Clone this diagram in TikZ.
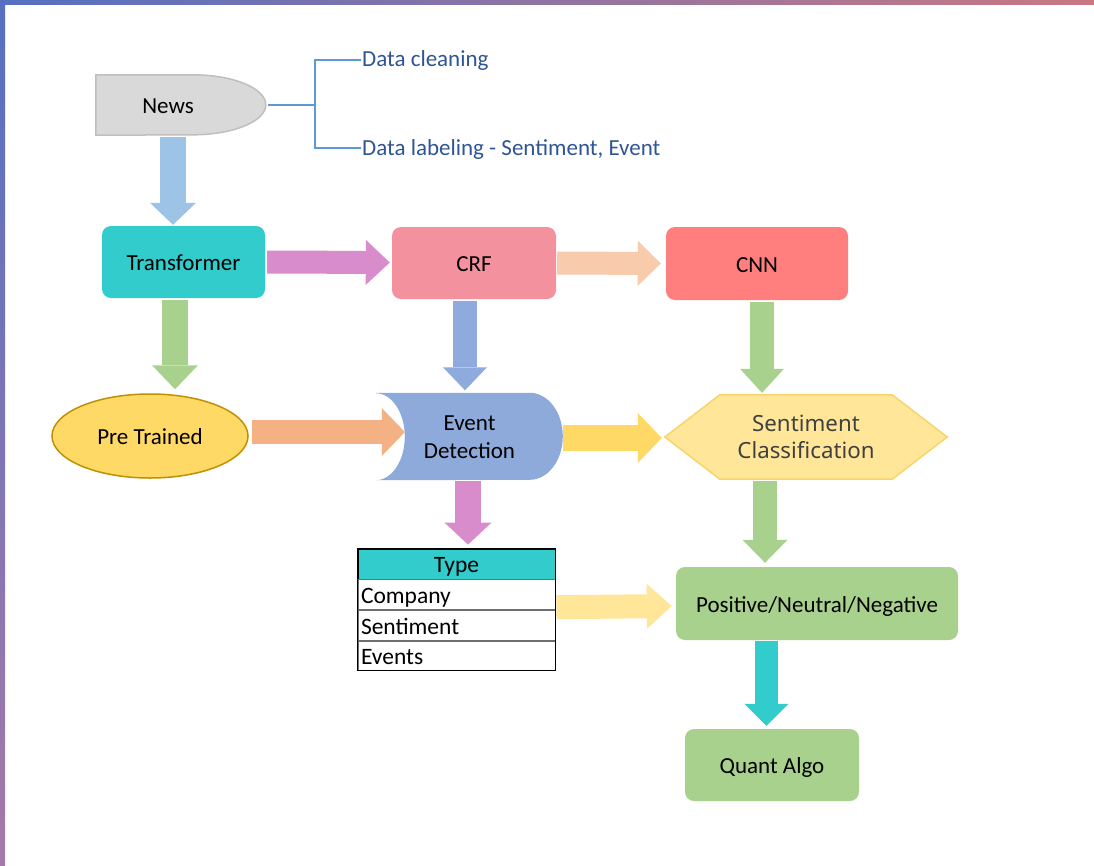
\documentclass[tikz,border=0pt]{standalone}
\usepackage{fontspec}
\setmainfont{Carlito}
\newfontfamily\robo{Noto Sans}
\usetikzlibrary{arrows.meta,shapes.geometric}
\pgfdeclarelayer{bg}
\pgfsetlayers{bg,main}
\definecolor{newsF}{HTML}{D9D9D9}
\definecolor{newsD}{HTML}{BFBFBF}
\definecolor{turq}{HTML}{33CCCC}
\definecolor{crfF}{HTML}{F4919F}
\definecolor{cnnF}{HTML}{FF7F7F}
\definecolor{preF}{HTML}{FFD966}
\definecolor{preD}{HTML}{BF9000}
\definecolor{evF}{HTML}{8EAADB}
\definecolor{senF}{HTML}{FFE699}
\definecolor{senD}{HTML}{F9D46A}
\definecolor{grn}{HTML}{A9D18E}
\definecolor{brkC}{HTML}{5B9BD5}
\definecolor{dtxt}{HTML}{2F5597}
\definecolor{aBlue}{HTML}{9DC3E6}
\definecolor{aPink}{HTML}{D98CCB}
\definecolor{aPeach}{HTML}{F8CBAD}
\definecolor{aEv}{HTML}{8FAADC}
\definecolor{aOr}{HTML}{F4B183}
\definecolor{aYel}{HTML}{FFD966}
\definecolor{aLy}{HTML}{FFE699}
\definecolor{frA}{HTML}{5570C2}
\definecolor{frB}{HTML}{C97882}
\definecolor{frC}{HTML}{A57AA8}
\definecolor{rowline}{HTML}{6E6E6E}
\definecolor{senT}{HTML}{404040}
\tikzset{
  txt/.style={font=\fontsize{23}{27}\selectfont, text=black, inner sep=0pt},
  one/.style={text height=17pt, text depth=0pt},
  box/.style={txt, one, rounded corners=9pt},
  dtx/.style={font=\fontsize{23}{27}\selectfont, one, text=dtxt, inner xsep=1pt, inner ysep=0pt},
  bline/.style={draw=brkC, line width=1.5pt},
  cell/.style={txt, one, font=\fontsize{23.5}{27}\selectfont, draw=rowline, line width=0.8pt, minimum height=30pt, text width=191pt, inner xsep=3pt, inner ysep=0pt, align=left},
  barrow/.style n args={4}{draw=#1, line width=#2, -{Triangle[width=#3,length=#4,line width=0pt]}}
}
\begin{document}
\begin{tikzpicture}[x=1pt,y=-1pt]
\useasboundingbox (0,0) rectangle (1094,865);
\begin{pgfonlayer}{bg}
\fill[white] (0,0) rectangle (1094,865);
\end{pgfonlayer}
% frame
\shade[left color=frA, right color=frB] (0,0) rectangle (1094,4);
\shade[top color=frA, bottom color=frC] (0,0) rectangle (5,865);

% nodes
\node[txt, one, minimum width=144pt, minimum height=60pt] (news) at (168,105) {News};
\coordinate (newstip) at ([xshift=170pt]news.west);
\node[dtx, anchor=west] (dc) at (361,58) {Data cleaning};
\node[dtx, anchor=west] (dl) at (361,147) {Data labeling - Sentiment, Event};
\coordinate (brj) at (315,105);

\node[box, fill=turq, minimum width=163pt, minimum height=72pt] (trans) at (183.5,262) {Transformer};
\node[box, fill=crfF, minimum width=164pt, minimum height=72pt] (crf) at (474,263) {CRF};
\node[box, fill=cnnF, minimum width=182pt, minimum height=73pt] (cnn) at (757,263.5) {CNN};
\node[txt, one, ellipse, fill=preF, draw=preD, line width=1.5pt, minimum width=196pt, minimum height=84pt] (pre) at (150,436) {Pre Trained};
\node[txt, align=center, minimum width=187pt, minimum height=87pt, font=\fontsize{23}{28}\selectfont] (event) at (469.5,437) {Event\\Detection};
\node[inner sep=0pt, align=center, minimum width=282pt, minimum height=84pt, text=senT, font=\robo\fontsize{22.3}{27}\selectfont] (senti) at (806,437) {Sentiment\\Classification};
\node[box, fill=grn, minimum width=282pt, minimum height=73pt] (pos) at (817,603.5) {Positive/Neutral/Negative};
\node[box, fill=grn, minimum width=174pt, minimum height=72pt] (quant) at (772,765) {Quant Algo};

% table
\node[txt, one, font=\fontsize{23.5}{27}\selectfont, draw=black, line width=0.8pt, fill=turq, minimum width=197pt, minimum height=30pt] (typeh) at (456.5,564) {Type};
\node[cell, anchor=north] (comp) at (typeh.south) {Company};
\node[cell, anchor=north] (sent) at (comp.south) {Sentiment};
\node[cell, anchor=north, minimum height=29pt] (evts) at (sent.south) {Events};
\draw[black, line width=1pt] (typeh.north west) rectangle (evts.south east);

% custom shapes
\begin{pgfonlayer}{bg}
\filldraw[fill=newsF, draw=newsD, line width=1.5pt] (news.north west) -- ([xshift=97pt]news.north west) arc[start angle=90, end angle=-90, x radius=73pt, y radius=30pt] -- (news.south west) -- cycle;
\fill[evF] ([yshift=0.5pt]event.north west) -- ([xshift=154pt,yshift=0.5pt]event.north west) arc[start angle=90, end angle=-90, x radius=33pt, y radius=43.5pt] -- ([yshift=0.5pt]event.south west) arc[start angle=-90, end angle=90, x radius=29pt, y radius=43.5pt] -- cycle;
\filldraw[fill=senF, draw=senD, line width=1.5pt] (senti.west) -- ([xshift=55pt]senti.north west) -- ([xshift=-55pt]senti.north east) -- (senti.east) -- ([xshift=-55pt]senti.south east) -- ([xshift=55pt]senti.south west) -- cycle;
\end{pgfonlayer}

% bracket
\draw[bline] ([xshift=2pt]newstip) -- (brj);
\draw[bline] ([yshift=-2pt]dc.west) -| (brj) |- ([yshift=-1pt]dl.west);

% block arrows
\draw[barrow={aBlue}{26pt}{46pt}{22pt}] ([xshift=5pt,yshift=-2pt]news.south) -- ([xshift=-10.5pt,yshift=1pt]trans.north);
\draw[barrow={aPink}{23pt}{45pt}{24pt}] ([xshift=2pt]trans.east) -- ([xshift=-2pt,yshift=0.5pt]crf.west);
\draw[barrow={aPeach}{23pt}{45pt}{23pt}] ([xshift=1pt]crf.east) -- ([xshift=-5pt]cnn.west);
\draw[barrow={grn}{26pt}{46pt}{24pt}] ([xshift=-8.5pt,yshift=-2pt]trans.south) -- ([xshift=25pt,yshift=4pt]pre.north);
\draw[barrow={aEv}{24pt}{44pt}{23pt}] ([xshift=-9pt,yshift=-2pt]crf.south) -- ([xshift=-4.5pt,yshift=3pt]event.north);
\draw[barrow={aOr}{24pt}{48pt}{23pt}] ([xshift=3pt,yshift=4pt]pre.east) -- ([xshift=29pt,yshift=5pt]event.west);
\draw[barrow={aYel}{26pt}{50pt}{24pt}] ([yshift=-1pt]event.east) -- ([xshift=-3pt,yshift=-1pt]senti.west);
\draw[barrow={grn}{24pt}{44pt}{24pt}] ([xshift=5pt,yshift=-2pt]cnn.south) -- ([xshift=-44pt,yshift=2pt]senti.north);
\draw[barrow={aPink}{26pt}{47pt}{22pt}] ([xshift=-1.5pt,yshift=-0.5pt]event.south) -- ([xshift=11.5pt,yshift=4pt]typeh.north);
\draw[barrow={aLy}{24pt}{45pt}{25pt}] ([xshift=1pt,yshift=3pt]comp.south east) -- ([xshift=-4pt,yshift=-2.5pt]pos.west);
\draw[barrow={grn}{24pt}{45pt}{23pt}] ([xshift=-41pt,yshift=-2pt]senti.south) -- ([xshift=-52pt,yshift=4pt]pos.north);
\draw[barrow={turq}{23pt}{44pt}{22pt}] ([xshift=-50.5pt,yshift=-1pt]pos.south) -- ([xshift=-5.5pt,yshift=3pt]quant.north);
\end{tikzpicture}
\end{document}
